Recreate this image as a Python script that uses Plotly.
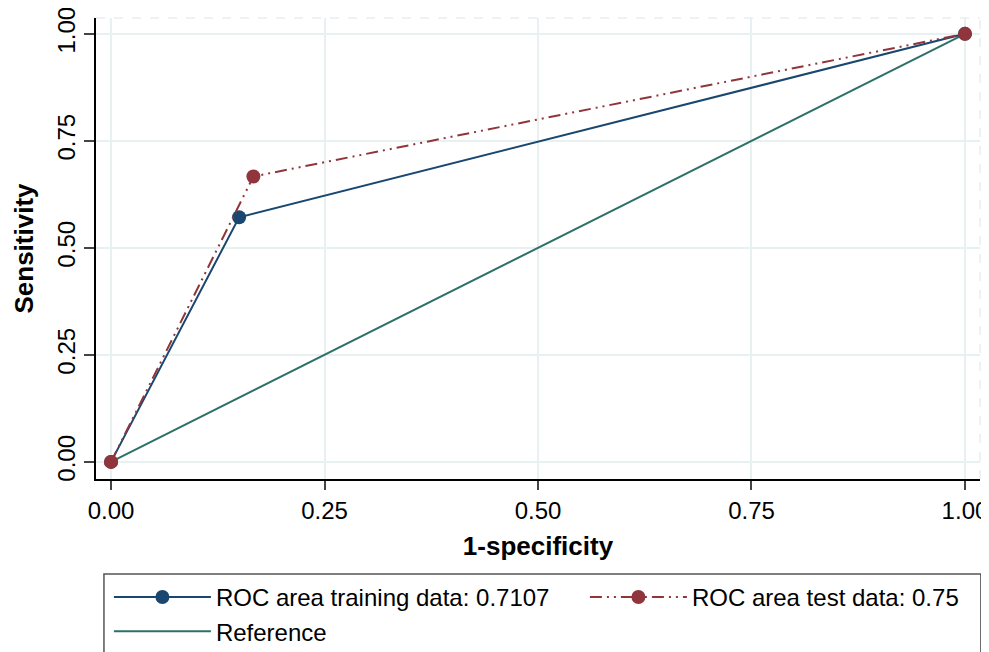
import plotly.graph_objects as go

# Data
train_fpr = [0.0, 0.15, 1.0]
train_sens = [0.0, 0.5714, 1.0]
test_fpr = [0.0, 0.1667, 1.0]
test_sens = [0.0, 0.6667, 1.0]
ref_x = [0.0, 1.0]
ref_y = [0.0, 1.0]
tick_vals = [0.0, 0.25, 0.5, 0.75, 1.0]
tick_text = ["0.00", "0.25", "0.50", "0.75", "1.00"]
names = ["ROC area training data: 0.7107", "ROC area test data: 0.75", "Reference"]

NAVY = "#1a476f"
MAROON = "#90353b"
TEAL = "#2e7067"
GRID = "#e8f0f1"
FONT = "Liberation Sans, Arial, sans-serif"

fig = go.Figure()
fig.add_trace(go.Scatter(
    x=ref_x, y=ref_y, mode="lines", name=names[2], legendrank=3,
    line=dict(color=TEAL, width=2), cliponaxis=False))
fig.add_trace(go.Scatter(
    x=train_fpr, y=train_sens, mode="lines+markers", name=names[0], legendrank=1,
    line=dict(color=NAVY, width=2), marker=dict(color=NAVY, size=14),
    cliponaxis=False))
fig.add_trace(go.Scatter(
    x=test_fpr, y=test_sens, mode="lines+markers", name=names[1], legendrank=2,
    line=dict(color=MAROON, width=2, dash="12px,5px,2px,5px,2px,5px"),
    marker=dict(color=MAROON, size=14), cliponaxis=False))

# The page body has an 8px margin, so the figure is 8px smaller than the window
fig.update_layout(
    width=981, height=644,
    margin=dict(l=88, r=9, t=10, b=173, autoexpand=False),
    paper_bgcolor="white", plot_bgcolor="white",
    font=dict(family=FONT, color="black", size=24),
    showlegend=True,
    legend=dict(
        orientation="h", x=-0.0001, y=-0.208, xanchor="left", yanchor="top",
        traceorder="normal", entrywidth=351, entrywidthmode="pixels",
        itemwidth=97, indentation=13, font=dict(size=24, family=FONT),
        bgcolor="rgba(0,0,0,0)", borderwidth=0, tracegroupgap=0),
    xaxis=dict(
        range=[-0.0176, 1.0176], tickvals=tick_vals, ticktext=tick_text,
        showgrid=True, gridcolor=GRID, gridwidth=1.5, zeroline=False,
        showline=True, linecolor="black", linewidth=1.5, automargin=False,
        ticks="outside", ticklen=9, tickcolor="#444", tickwidth=1.5,
        ticklabeloverflow="allow",
        tickfont=dict(size=24), title=dict(text="<b>1-specificity</b>",
        font=dict(size=26), standoff=14)),
    yaxis=dict(
        range=[-0.04, 1.037], tickvals=tick_vals, ticktext=tick_text,
        showgrid=True, gridcolor=GRID, gridwidth=1.5, zeroline=False,
        showline=True, linecolor="black", linewidth=1.5, automargin=False,
        ticks="outside", ticklen=10, tickcolor="#444", tickwidth=1.5,
        ticklabeloverflow="allow",
        tickangle=-90, tickfont=dict(size=24),
        title=dict(text="<b>Sensitivity</b>", font=dict(size=26), standoff=12)),
    shapes=[
        dict(type="rect", xref="paper", yref="paper", x0=0.009, x1=1.001,
             y0=-0.6, y1=-0.206, line=dict(color="#555", width=1.5),
             fillcolor="rgba(0,0,0,0)", layer="above"),
        dict(type="line", xref="paper", yref="paper", x0=0, x1=1, y0=1, y1=1,
             line=dict(color=GRID, width=1.5, dash="dash")),
        dict(type="line", xref="paper", yref="paper", x0=1, x1=1, y0=0, y1=1,
             line=dict(color=GRID, width=1.5, dash="dash")),
    ],
)

fig.write_html("out.html")
